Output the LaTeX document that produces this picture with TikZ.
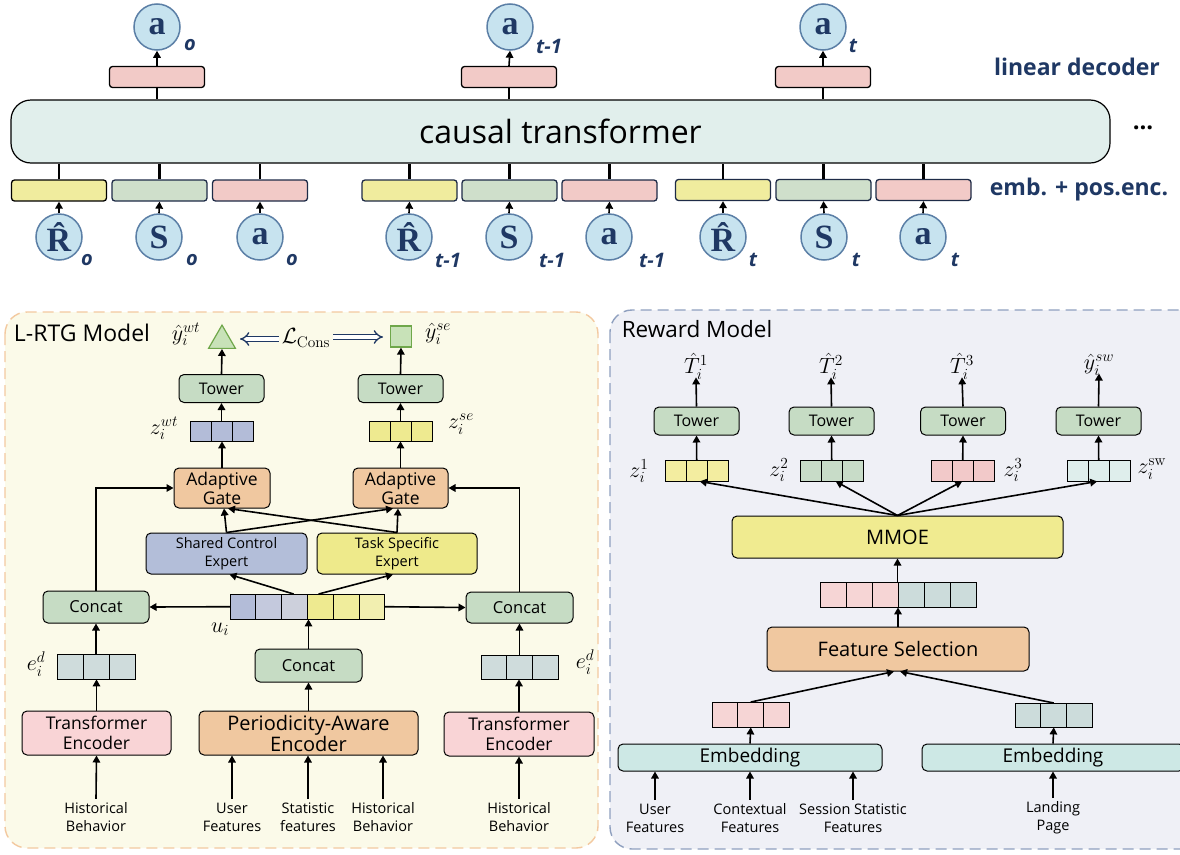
\documentclass[tikz,border=0pt]{standalone}
\usepackage{fix-cm}
\usepackage[no-math]{fontspec}
\setmainfont{Open Sans}
\newfontfamily\bser{Liberation Serif}
\usetikzlibrary{arrows.meta,shapes.geometric}
\definecolor{navy}{HTML}{1F3864}
\definecolor{circfill}{HTML}{C7E3EF}
\definecolor{circdraw}{HTML}{5B7FA6}
\definecolor{trfill}{HTML}{E1EFEC}
\definecolor{eyel}{HTML}{F0EC9E}
\definecolor{egrn}{HTML}{CFDFCB}
\definecolor{epink}{HTML}{F2CAC7}
\definecolor{ebdr}{HTML}{1E2B47}
\definecolor{plfill}{HTML}{FBFAE9}
\definecolor{pldraw}{HTML}{F3C9A0}
\definecolor{prfill}{HTML}{EFF0F6}
\definecolor{prdraw}{HTML}{8FA0BF}
\definecolor{towerfill}{HTML}{C6DCC4}
\definecolor{gatefill}{HTML}{F0C8A0}
\definecolor{shfill}{HTML}{B3BED9}
\definecolor{tsfill}{HTML}{EEEA8B}
\definecolor{tefill}{HTML}{F9D4D6}
\definecolor{mmoefill}{HTML}{F0EB90}
\definecolor{embfill}{HTML}{CDE8E5}
\definecolor{lavA}{HTML}{B3BCD8}
\definecolor{lavB}{HTML}{C4C9DD}
\definecolor{lavC}{HTML}{CDD0DC}
\definecolor{yelA}{HTML}{EEEA90}
\definecolor{yelB}{HTML}{F0ED9C}
\definecolor{yelC}{HTML}{F2EFB0}
\definecolor{cgray}{HTML}{CFDCDC}
\definecolor{zyel}{HTML}{F3EDA0}
\definecolor{zgrn}{HTML}{C8DCC8}
\definecolor{zpink}{HTML}{F2C9C9}
\definecolor{zsw}{HTML}{DFEEEC}
\definecolor{mpink}{HTML}{F6D5D5}
\definecolor{mgray}{HTML}{CCDCDB}
\definecolor{trifill}{HTML}{C8E2B8}
\definecolor{tridraw}{HTML}{6FA74A}
\newcommand\mvec[7]{%
  \node[inner sep=0pt, minimum width={#4*#6}, minimum height=#5, anchor=north west] (#1) at (#2,#3) {};
  \foreach \vc [count=\vi from 0] in {#7} {\draw[cellst, fill=\vc] ({#2+\vi*#4},#3) rectangle ++(#4,#5);}
}
\begin{document}
\begin{tikzpicture}[x=1pt,y=-1pt,
  arr/.style={line width=1.6pt, -{Triangle[length=7pt,width=7.5pt]}},
  ln/.style={line width=2.2pt},
  circ/.style={circle, draw=circdraw, fill=circfill, line width=1.5pt, minimum size=46pt, inner sep=0pt, text=navy, font=\bser\bfseries\fontsize{34}{34}\selectfont},
  sub/.style={text=navy, font=\fontsize{20}{20}\selectfont\bfseries\itshape},
  obox/.style={draw=black, line width=1.3pt, rounded corners=3pt, minimum width=95pt, minimum height=21pt, inner sep=0pt},
  ebox/.style={draw=ebdr, line width=1.3pt, rounded corners=3pt, minimum width=95pt, minimum height=21pt, inner sep=0pt},
  box/.style={draw=black, line width=1pt, rounded corners=5pt, inner sep=0pt, align=center},
  cellst/.style={draw=black, line width=1pt},
  tower/.style={box, fill=towerfill, minimum width=85pt, minimum height=28pt, font=\fontsize{16}{16}\selectfont},
  mlab/.style={inner sep=0pt, font=\fontsize{22}{22}\selectfont},
  inlab/.style={align=center, font=\fontsize{14.5}{18}\selectfont},
  dbl/.style={draw=navy, line width=1.3pt, double=white, double distance=3.4pt, -{Implies}},
  navytxt/.style={text=navy, font=\fontsize{23}{23}\selectfont\bfseries}
]
\clip (0,0) rectangle (1180,854);
\fill[white] (0,0) rectangle (1180,854);

% ---------------- top: causal transformer ----------------
\node[box, fill=trfill, line width=1.2pt, rounded corners=20pt, minimum width=1099pt, minimum height=63pt, font=\fontsize{32}{32}\selectfont] (tr) at (560.5,131.5) {causal transformer};
\node[font=\fontsize{24}{24}\selectfont\bfseries] (dots) at (1143,128) {...};
\node[navytxt] (ld) at (1077,67) {linear decoder};
\node[navytxt] (ep) at (1079,190) {emb. + pos.enc.};

% outputs
\node[circ] (ao) at (157,27) {a};
\node[sub] at (190,45) {o};
\node[circ] (at1) at (510,27) {a};
\node[sub] at (549,46) {t-1};
\node[circ] (at) at (823,27) {a};
\node[sub] at (853,46) {t};
\node[obox, fill=epink] (do) at (157,77) {};
\node[obox, fill=epink] (dt1) at (509,77) {};
\node[obox, fill=epink] (dt) at (823,77) {};
\foreach \d/\a in {do/ao, dt1/at1, dt/at} {
  \draw[ln] (\d.south |- tr.north) -- (\d.south);
  \draw[arr] (\d.north) -- (\a.south);
}

% embeddings and inputs
\node[ebox, draw=black, fill=eyel] (e1) at (59,190.5) {};
\node[ebox, fill=egrn] (e2) at (159.5,190.5) {};
\node[ebox, fill=epink] (e3) at (260,190.5) {};
\node[ebox, fill=eyel] (e4) at (409.5,190.5) {};
\node[ebox, fill=egrn] (e5) at (509.5,190.5) {};
\node[ebox, fill=epink] (e6) at (609.5,190.5) {};
\node[ebox, fill=eyel] (e7) at (723,190) {};
\node[ebox, fill=egrn] (e8) at (823.5,190) {};
\node[ebox, fill=epink] (e9) at (923.5,190) {};

\node[circ] (i1) at (59,237) {\^R};
\node[circ] (i2) at (159,237) {S};
\node[circ] (i3) at (260,237) {a};
\node[circ] (i4) at (409,237) {\^R};
\node[circ] (i5) at (509,237) {S};
\node[circ] (i6) at (609,237) {a};
\node[circ] (i7) at (723,237) {\^R};
\node[circ] (i8) at (824,237) {S};
\node[circ] (i9) at (923,237) {a};
\node[sub] at (87,260) {o};
\node[sub] at (192,260) {o};
\node[sub] at (292,260) {o};
\node[sub] at (448,260) {t-1};
\node[sub] at (552,260) {t-1};
\node[sub] at (652,260) {t-1};
\node[sub] at (753,260) {t};
\node[sub] at (856,260) {t};
\node[sub] at (955,260) {t};
\foreach \k in {1,...,9} {
  \draw[ln] (e\k.north) -- (e\k.north |- tr.south);
  \draw[arr] (i\k.north) -- (e\k.south);
}

% ---------------- L-RTG panel ----------------
\draw[fill=plfill, draw=pldraw, line width=1.4pt, dash pattern=on 11pt off 6pt, rounded corners=22pt] (5,312) rectangle (598,848);
\node[font=\fontsize{23}{23}\selectfont] (lrtg) at (82,333) {L-RTG Model};

\node[mlab] (ywt) at (186,334) {$\hat{y}_i^{wt}$};
\node[regular polygon, regular polygon sides=3, inner sep=0pt, minimum size=31pt, fill=trifill, draw=tridraw, line width=1.2pt] (tri) at (222,340.6) {};
\node[mlab] (lc) at (306,338) {$\mathcal{L}_{\mathrm{Cons}}$};
\node[rectangle, inner sep=0pt, minimum size=21pt, fill=trifill, draw=tridraw, line width=1.2pt] (sq) at (401,336.5) {};
\node[mlab] (yse) at (438,334) {$\hat{y}_i^{se}$};
\draw[dbl] ([xshift=-3pt]lc.west |- 0,339) -- (240,339);
\draw[dbl] ([xshift=3pt]lc.east |- 0,337) -- (383,337);

\node[tower] (twL) at (221.5,388.5) {Tower};
\node[tower] (twR) at (400.5,388.5) {Tower};
\mvec{zwt}{190}{421}{21}{20}{3}{lavA,lavA,lavA}
\mvec{zse}{369}{421}{21.3}{20}{3}{yelA,yelA,yelA}
\node[mlab] (zwtl) at (164,428) {$z_i^{wt}$};
\node[mlab] (zsel) at (461,424) {$z_i^{se}$};

\node[box, fill=gatefill, minimum width=96pt, minimum height=40pt, font=\fontsize{17.5}{19}\selectfont] (gL) at (222,488) {Adaptive\\Gate};
\node[box, fill=gatefill, minimum width=95pt, minimum height=40pt, font=\fontsize{17.5}{19}\selectfont] (gR) at (400.5,488) {Adaptive\\Gate};

\node[box, fill=shfill, minimum width=161pt, minimum height=41pt, font=\fontsize{14.5}{18}\selectfont] (sh) at (226.5,553.5) {Shared Control\\Expert};
\node[box, fill=tsfill, minimum width=160pt, minimum height=41pt, font=\fontsize{14.5}{18}\selectfont] (ts) at (397,553.5) {Task Specific\\Expert};

\mvec{u}{230}{594}{25.8}{25}{6}{lavA,lavB,lavC,yelA,yelB,yelC}
\node[mlab] (ul) at (220,629) {$u_i$};

\node[box, fill=towerfill, minimum width=106pt, minimum height=32pt, font=\fontsize{16.5}{16.5}\selectfont] (cL) at (96,607) {Concat};
\node[box, fill=towerfill, minimum width=107pt, minimum height=31pt, font=\fontsize{16.5}{16.5}\selectfont] (cR) at (519.5,607.5) {Concat};
\node[box, fill=towerfill, minimum width=107pt, minimum height=33pt, font=\fontsize{16.5}{16.5}\selectfont] (cM) at (308.5,665.5) {Concat};

\mvec{edL}{57}{654}{26}{25}{3}{cgray,cgray,cgray}
\mvec{edR}{481}{655}{25.7}{24}{3}{cgray,cgray,cgray}
\node[mlab] (edLl) at (36,664) {$e_i^d$};
\node[mlab] (edRl) at (585,662) {$e_i^d$};

\node[box, fill=tefill, minimum width=149pt, minimum height=44pt, font=\fontsize{17.5}{20}\selectfont] (teL) at (96.5,733) {Transformer\\Encoder};
\node[box, fill=tefill, minimum width=150pt, minimum height=44pt, font=\fontsize{17.5}{20}\selectfont] (teR) at (519,734) {Transformer\\Encoder};
\node[box, fill=gatefill, minimum width=219pt, minimum height=44pt, font=\fontsize{20}{21}\selectfont] (pae) at (308.5,733) {Periodicity-Aware\\Encoder};

\node[inlab] (h1) at (96,817) {Historical\\Behavior};
\node[inlab] (uf) at (232,817) {User\\Features};
\node[inlab] (sf) at (308,817) {Statistic\\features};
\node[inlab] (h2) at (383,817) {Historical\\Behavior};
\node[inlab] (h3) at (519,817) {Historical\\Behavior};

% L-RTG connectors
\draw[arr] (h1.north) -- (teL.south);
\draw[arr] (h3.north) -- (teR.south);
\draw[arr] (uf.north) -- (uf.north |- pae.south);
\draw[arr] (sf.north) -- (sf.north |- pae.south);
\draw[arr] (h2.north) -- (h2.north |- pae.south);
\draw[arr] (teL.north) -- (teL.north |- edL.south);
\draw[arr] (edL.north -| cL.south) -- (cL.south);
\draw[arr] (teR.north) -- (teR.north |- edR.south);
\draw[arr] (edR.north -| cR.south) -- (cR.south);
\draw[arr] (pae.north) -- (pae.north |- cM.south);
\draw[arr] (cM.north) -- (cM.north |- u.south);
\draw[arr] (u.west) -- (cL.east);
\draw[arr] (u.east) -- (cR.west);
\draw[arr] ([xshift=-14pt]u.north) -- ([xshift=3pt]sh.south);
\draw[arr] ([xshift=11pt]u.north) -- ([xshift=-4pt]ts.south);
\draw[arr] (sh.north) -- ([xshift=2pt]gL.south);
\draw[arr] (ts.north) -- ([xshift=6pt]gL.south);
\draw[arr] (sh.north) -- ([xshift=-7.5pt]gR.south);
\draw[arr] (ts.north) -- ([xshift=-2.5pt]gR.south);
\draw[arr] (cL.north) |- (gL.west);
\draw[arr] (cR.north) |- (gR.east);
\draw[arr] (gL.north) -- (gL.north |- zwt.south);
\draw[arr] (zwt.north -| twL.south) -- (twL.south);
\draw[arr] (gR.north) -- (gR.north |- zse.south);
\draw[arr] (zse.north -| twR.south) -- (twR.south);
\draw[arr] (twL.north) -- (tri.south);
\draw[arr] (twR.north) -- (sq.south);

% ---------------- Reward panel ----------------
\draw[fill=prfill, draw=prdraw, line width=1.4pt, dash pattern=on 11pt off 6pt, rounded corners=22pt] (610,310) rectangle (1205,849);
\node[font=\fontsize{22.5}{22.5}\selectfont] (rm) at (697,329) {Reward Model};

\node[tower] (t1) at (696.5,421) {Tower};
\node[tower] (t2) at (831.5,421) {Tower};
\node[tower] (t3) at (963,421) {Tower};
\node[tower] (t4) at (1098.5,421) {Tower};
\node[mlab] (o1) at (696,366) {$\hat{T}_i^1$};
\node[mlab] (o2) at (831,366) {$\hat{T}_i^2$};
\node[mlab] (o3) at (962,366) {$\hat{T}_i^3$};
\node[mlab] (o4) at (1099,365) {$\hat{y}_i^{sw}$};

\mvec{z1}{665}{460}{21}{21}{3}{zyel,zyel,zyel}
\mvec{z2}{800}{460}{21}{21}{3}{zgrn,zgrn,zgrn}
\mvec{z3}{931}{460}{21}{21}{3}{zpink,zpink,zpink}
\mvec{z4}{1067}{460}{21}{21}{3}{zsw,zsw,zsw}
\node[mlab] (z1l) at (639,471) {$z_i^1$};
\node[mlab] (z2l) at (779,470) {$z_i^2$};
\node[mlab] (z3l) at (1013,470) {$z_i^3$};
\node[mlab] (z4l) at (1152,469) {$z_i^{\mathrm{sw}}$};

\node[box, fill=mmoefill, minimum width=331pt, minimum height=42pt, font=\fontsize{20}{20}\selectfont] (mm) at (897.5,537) {MMOE};
\mvec{mv}{820}{582}{26}{25}{6}{mpink,mpink,mpink,mgray,mgray,mgray}
\node[box, fill=gatefill, minimum width=262pt, minimum height=44pt, font=\fontsize{20}{20}\selectfont] (fs) at (898,649) {Feature Selection};
\mvec{pv}{712}{702}{25.7}{25}{3}{mpink,mpink,mpink}
\mvec{gv}{1015}{703}{25.7}{24}{3}{mgray,mgray,mgray}
\node[box, fill=embfill, minimum width=264pt, minimum height=27pt, font=\fontsize{19}{19}\selectfont] (emL) at (750,757.5) {Embedding};
\node[box, fill=embfill, minimum width=262pt, minimum height=27pt, font=\fontsize{19}{19}\selectfont] (emR) at (1053,757.5) {Embedding};

\node[inlab] (ruf) at (655,818) {User\\Features};
\node[inlab] (rcf) at (750,818) {Contextual\\Features};
\node[inlab] (rss) at (853,818) {Session Statistic\\Features};
\node[inlab] (rlp) at (1053,818) {Landing\\Page};

% Reward connectors
\draw[arr] (ruf.north) -- (ruf.north |- emL.south);
\draw[arr] (rcf.north) -- (emL.south);
\draw[arr] (rss.north) -- (rss.north |- emL.south);
\draw[arr] (rlp.north) -- (emR.south);
\draw[arr] (emL.north) -- (pv.south);
\draw[arr] (emR.north) -- (gv.south);
\draw[arr] (pv.north) -- ([xshift=-4pt]fs.south);
\draw[arr] (gv.north) -- ([xshift=2pt]fs.south);
\draw[arr] (fs.north) -- (fs.north |- mv.south);
\draw[arr] (mv.north -| mm.south) -- (mm.south);
\draw[arr] (mm.north) -- ([xshift=3pt]z1.south);
\draw[arr] (mm.north) -- ([xshift=4pt]z2.south);
\draw[arr] (mm.north) -- ([xshift=-0.5pt]z3.south);
\draw[arr] (mm.north) -- ([xshift=-1.5pt]z4.south);
\foreach \k in {1,...,4} {
  \draw[arr] (z\k.north) -- (t\k.south);
  \draw[arr] (t\k.north) -- ([yshift=2pt]o\k.south);
}
\end{tikzpicture}
\end{document}
